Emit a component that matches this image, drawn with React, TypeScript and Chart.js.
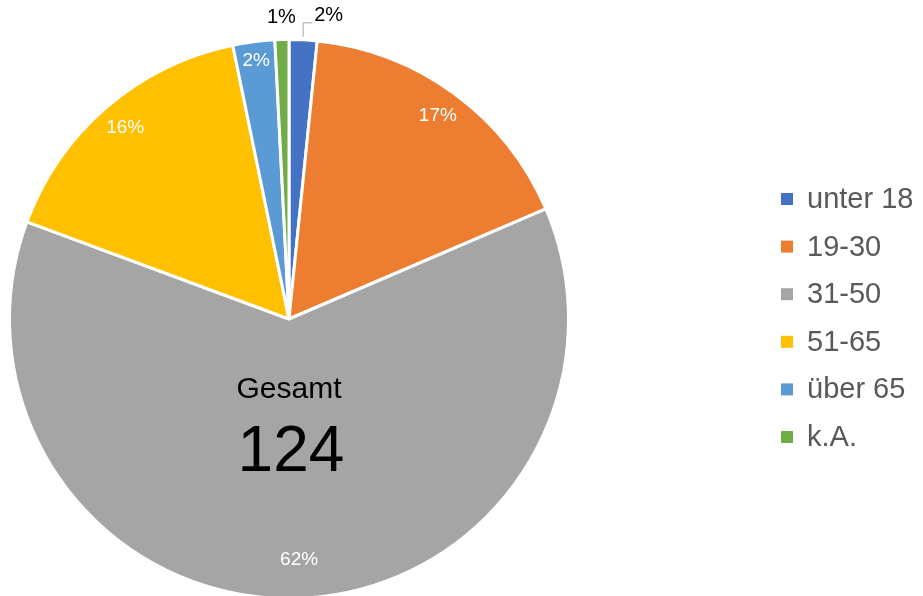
import React, { useEffect, useRef } from "react";
import { Chart, registerables } from "chart.js";

Chart.register(...registerables);

const categories = ["unter 18", "19-30", "31-50", "51-65", "über 65", "k.A."];
const counts = [2, 21, 77, 20, 3, 1];
const percentLabels = ["2%", "17%", "62%", "16%", "2%", "1%"];
const sliceColors = ["#4472C4", "#ED7D31", "#A5A5A5", "#FFC000", "#5B9BD5", "#70AD47"];
const totalLabel = "Gesamt";
const totalValue = "124";

const FONT = "'Liberation Sans', Arial, Helvetica, sans-serif";

const overlayPlugin = {
  id: "overlay",
  afterDatasetsDraw(chart: any) {
    const ctx = chart.ctx;
    const meta = chart.getDatasetMeta(0);
    ctx.save();
    meta.data.forEach((arc: any, i: number) => {
      const { x, y, startAngle, endAngle, outerRadius } = arc.getProps(
        ["x", "y", "startAngle", "endAngle", "outerRadius"],
        true
      );
      const mid = (startAngle + endAngle) / 2;
      const label = percentLabels[i];
      if (i === 0) {
        const px = x + Math.cos(mid) * outerRadius;
        const py = y + Math.sin(mid) * outerRadius;
        ctx.strokeStyle = "#A6A6A6";
        ctx.lineWidth = 1;
        ctx.beginPath();
        ctx.moveTo(px, py - 3);
        ctx.lineTo(px, py - 17);
        ctx.lineTo(px + 9, py - 17);
        ctx.stroke();
        ctx.fillStyle = "#000000";
        ctx.font = `20px ${FONT}`;
        ctx.textAlign = "left";
        ctx.textBaseline = "middle";
        ctx.fillText(label, px + 11, py - 24);
        return;
      }
      let r = 0.9;
      let color = "#FFFFFF";
      let size = 19;
      if (i === 2) r = 0.86;
      if (i === 4) r = 0.93;
      if (i === 5) {
        r = 1.08;
        color = "#000000";
        size = 20;
      }
      const lx = x + Math.cos(mid) * outerRadius * r + (i === 2 ? 4 : 0);
      const ly = y + Math.sin(mid) * outerRadius * r;
      ctx.fillStyle = color;
      ctx.font = `${size}px ${FONT}`;
      ctx.textAlign = "center";
      ctx.textBaseline = "middle";
      ctx.fillText(label, lx, ly);
    });

    const a0 = meta.data[0];
    const cx = a0.x;
    const cy = a0.y;
    ctx.fillStyle = "#000000";
    ctx.textAlign = "center";
    ctx.textBaseline = "middle";
    ctx.font = `30px ${FONT}`;
    ctx.fillText(totalLabel, cx, cy + 71);
    ctx.font = `64px ${FONT}`;
    ctx.fillText(totalValue, cx + 2, cy + 134);

    const lx0 = 781;
    const ly0 = 199;
    const step = 47.6;
    categories.forEach((c, i) => {
      const yy = ly0 + i * step;
      ctx.fillStyle = sliceColors[i];
      ctx.fillRect(lx0, yy - 6, 12, 12);
      ctx.fillStyle = "#595959";
      ctx.font = `29px ${FONT}`;
      ctx.textAlign = "left";
      ctx.textBaseline = "middle";
      ctx.fillText(c, lx0 + 26, yy + 1);
    });
    ctx.restore();
  },
};

export default function App() {
  const ref = useRef<HTMLCanvasElement | null>(null);
  useEffect(() => {
    if (!ref.current) return;
    const chart = new Chart(ref.current, {
      type: "pie",
      data: {
        labels: categories,
        datasets: [
          {
            data: counts,
            backgroundColor: sliceColors,
            borderColor: "#FFFFFF",
            borderWidth: 3,
          },
        ],
      },
      options: {
        animation: false,
        responsive: false,
        maintainAspectRatio: false,
        layout: { padding: { left: 8, right: 353, top: 38, bottom: 0 } },
        plugins: {
          legend: { display: false },
          tooltip: { enabled: false },
        },
      },
      plugins: [overlayPlugin],
    });
    return () => chart.destroy();
  }, []);
  return (
    <div
      style={{
        position: "fixed",
        left: 0,
        top: 0,
        width: 923,
        height: 596,
        overflow: "hidden",
        background: "#FFFFFF",
      }}
    >
      <canvas ref={ref} width={923} height={600} style={{ display: "block" }} />
    </div>
  );
}
